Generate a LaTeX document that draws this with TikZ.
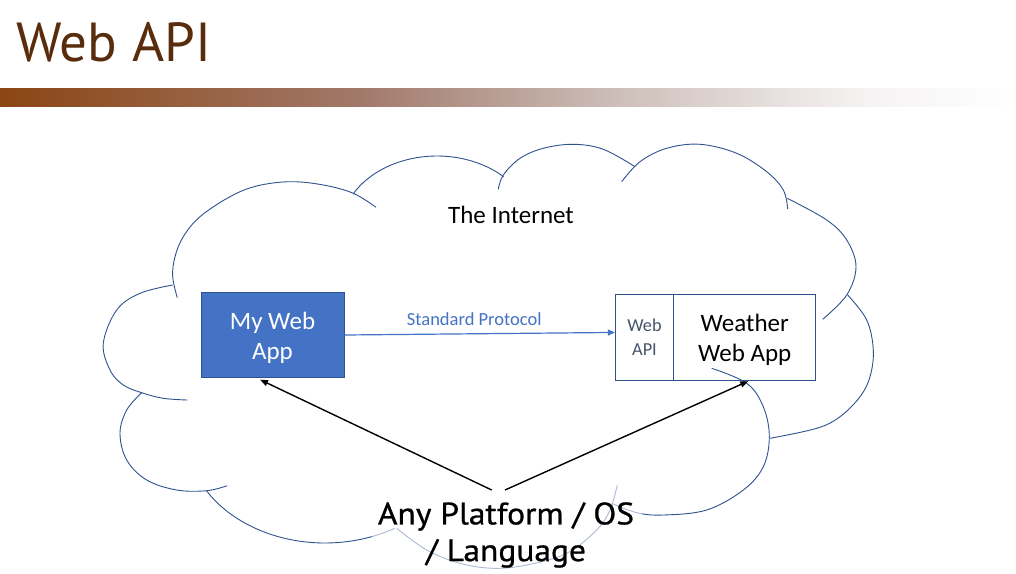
\documentclass[tikz,border=0pt]{standalone}
\usepackage{fontspec}
\setmainfont{Carlito}
\newfontfamily\dinfont[FakeStretch=1.08,FakeBold=0.8]{PT Sans}
\newfontfamily\titlefont{PT Sans}
\usetikzlibrary{arrows.meta,calc}
\definecolor{cloudline}{RGB}{47,82,143}
\definecolor{accblue}{RGB}{68,114,196}
\definecolor{apitext}{RGB}{68,84,106}
\definecolor{titlebrown}{RGB}{88,44,12}
\pgfdeclarehorizontalshading{barshade}{100bp}{rgb(0bp)=(0.545,0.271,0.075); rgb(25bp)=(0.545,0.271,0.075); rgb(42.5bp)=(0.63,0.47,0.41); rgb(55bp)=(0.80,0.74,0.72); rgb(67.5bp)=(0.96,0.95,0.95); rgb(75bp)=(1,1,1); rgb(100bp)=(1,1,1)}
\tikzset{
  cloudstroke/.style={draw=cloudline, line width=0.9pt},
  mainbox/.style={draw=cloudline, fill=accblue, text=white, line width=0.9pt, inner sep=0pt, align=center, minimum width=143pt, minimum height=85.4pt, font=\fontsize{25}{30}\selectfont},
  whitebox/.style={draw=cloudline, fill=white, line width=0.9pt, inner sep=0pt, align=center, minimum height=85.7pt},
  protoarrow/.style={draw=accblue, line width=1.2pt, -{Triangle[length=7pt,width=6pt]}},
  blackarrow/.style={draw=black, line width=1.4pt, -{Triangle[length=8pt,width=6pt]}},
  bigtext/.style={font=\fontsize{25}{30}\selectfont},
  prototext/.style={text=accblue, font=\fontsize{18.5}{22}\selectfont},
  bottomtext/.style={align=center, inner sep=0pt, font=\dinfont\fontsize{31}{36.7}\selectfont},
  titletext/.style={text=titlebrown, inner sep=0pt, font=\titlefont\fontsize{55}{60}\selectfont}
}
\begin{document}
\begin{tikzpicture}[x=1pt,y=-1pt]
\useasboundingbox (0,0) rectangle (1016,573);
\fill[white] (0,0) rectangle (1016,573);
% title and bar
\node[titletext, anchor=base west] (title) at (16.4,61.7) {Web API};
\shade[shading=barshade] (0,88.3) rectangle (1016,106.7);
% boxes
\node[mainbox] (my) at (272.5,335) {\rule{0pt}{22.5pt}My Web\\App};
\node[whitebox, minimum width=58.4pt, text=apitext, font=\fontsize{18.3}{23.3}\selectfont] (api) at (644.5,337.15) {Web\\API};
\node[whitebox, minimum width=142pt, font=\fontsize{25}{29.7}\selectfont] (wapp) at (744.7,337.15) {\rule{0pt}{22.5pt}Weather\\Web App};
\node[bigtext, anchor=base] (inet) at (511,223.3) {The Internet};
% cloud
\draw[cloudstroke] plot[smooth, tension=0.6] coordinates {(172.7,285) (140,293.3) (116.7,310) (103.3,343.3) (110,370) (123.3,385) (141.7,392.7) (163.3,398.3) (187.3,400)};
\draw[cloudstroke] plot[smooth, tension=0.6] coordinates {(141.7,392.7) (126.7,410) (120,433.3) (126.7,460) (146.7,480) (176.7,490) (206.7,490.7) (227.3,485.7)};
\draw[cloudstroke] plot[domain=59.8:148.8, samples=40, variable=\t] ({325+138.4*cos(\t)}, {435+108*sin(\t)});
\draw[cloudstroke] plot[smooth, tension=0.6] coordinates {(396.7,528.3) (426.7,550) (460,563.3) (493.3,568.3) (526.7,565) (566.7,553.3) (596.7,530) (610,510) (617.3,485)};
\draw[cloudstroke] plot[smooth, tension=0.6] coordinates {(711.7,368.3) (746.7,383.3) (763.3,406.7) (769.3,436.7) (763.3,466.7) (743.3,490) (706.7,510) (663.3,515) (636.7,512.7) (611.7,503.3)};
\draw[cloudstroke] plot[smooth, tension=0.6] coordinates {(847.7,295) (866.7,320) (873.3,350) (870,376.7) (860,396.7) (840,416.7) (816.7,428.3) (770,438.3)};
\draw[cloudstroke] plot[smooth, tension=0.6] coordinates {(787.3,198.3) (826.7,220) (846.7,240) (856,266.7) (846.7,295) (822.7,319.3)};
\draw[cloudstroke] plot[smooth, tension=0.6] coordinates {(621.7,181.7) (640,161.7) (666.7,148.3) (700,144.3) (736.7,153.3) (766.7,171.7) (783.3,190) (787.7,209)};
\draw[cloudstroke] plot[smooth, tension=0.6] coordinates {(498.3,189.3) (503.3,175) (520,158.3) (543.3,148.3) (573.3,144.3) (603.3,149.3) (635,166.7)};
\draw[cloudstroke] plot[domain=209:314, samples=40, variable=\t] ({437+96*cos(\t)}, {230+74*sin(\t)});
\draw[cloudstroke] plot[smooth, tension=0.6] coordinates {(177.3,297.7) (172.7,276.7) (175,256.7) (183.3,236.7) (200,216.7) (230,196.7) (256.7,186) (290,181.7) (323.3,185) (353.3,193.3) (376,207.3)};
% translucent backing of the bottom text
\fill[white, opacity=0.6] (372,482) rectangle (642,573);
\node[bottomtext] (anyp) at (506,535) {Any Platform / OS\\/ Language};
% connectors
\draw[protoarrow] (my.east) -- ([yshift=4.7pt]api.west) node[prototext, pos=0.48, anchor=base, yshift=8.3pt] (proto) {Standard Protocol};
\coordinate (src1) at (491.7,490);
\coordinate (src2) at (505,490);
\draw[blackarrow] (src1) -- ([xshift=-12.5pt,yshift=-1.5pt]my.south);
\draw[blackarrow] (src2) -- ([xshift=3.6pt,yshift=-0.7pt]wapp.south);
\end{tikzpicture}
\end{document}
